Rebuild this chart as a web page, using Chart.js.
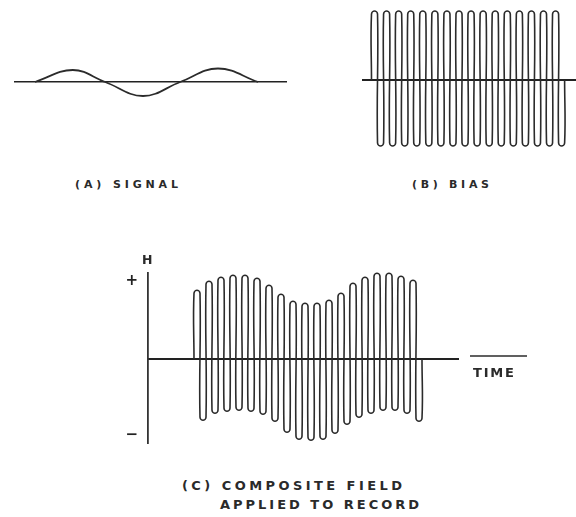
<!DOCTYPE html>
<html>
<head>
<meta charset="utf-8">
<script src="https://cdn.jsdelivr.net/npm/chart.js@4.4.1/dist/chart.umd.min.js"></script>
<style>
  html, body { margin: 0; padding: 0; background: #fff; }
  #page { position: relative; width: 576px; height: 517px; overflow: hidden; }
  canvas { position: absolute; }
  .lbl { position: absolute; font-family: "DejaVu Sans", sans-serif; font-weight: bold;
         color: #2a2a2a; line-height: 1; white-space: nowrap; }
</style>
</head>
<body>
<div id="page">
  <canvas id="signalChart" width="300" height="80" style="left:0;top:40px"></canvas>
  <canvas id="biasChart" width="236" height="160" style="left:340px;top:0"></canvas>
  <canvas id="compChart" width="476" height="230" style="left:100px;top:240px"></canvas>

  <div class="lbl" data-w="103" style="left:75px;top:178.7px;font-size:11px">(A) SIGNAL</div>
  <div class="lbl" data-w="77" style="left:412px;top:178.7px;font-size:11px">(B) BIAS</div>
  <div class="lbl" style="left:142px;top:254px;font-size:12.5px">H</div>
  <div class="lbl" data-w="41" style="left:473px;top:365.5px;font-size:13px">TIME</div>
  <div class="lbl" data-w="220" style="left:182px;top:478.8px;font-size:13px">(C) COMPOSITE FIELD</div>
  <div class="lbl" data-w="199" style="left:220px;top:497.8px;font-size:13px">APPLIED TO RECORD</div>
</div>

<script>
// time in bias cycles, field in arbitrary units (1 unit = 1/10 of the drawing's scale)

// (A) signal: zero crossings and peaks
const signalTime  = [0, 3.15, 5.85, 9.0, 12.1, 15.25, 18.6];
const signalField = [0, 1.2, 0, -1.4, 0, 1.35, 0];

// (B) bias: one top and one bottom per cycle
const biasTops    = [6.9, 6.9, 6.9, 6.9, 6.9, 6.9, 6.9, 6.9, 6.9, 6.9, 6.9, 6.9, 6.9, 6.9, 6.9, 6.9];
const biasBottoms = [-6.6, -6.6, -6.6, -6.6, -6.6, -6.6, -6.6, -6.6, -6.6, -6.6, -6.6, -6.6, -6.6, -6.6, -6.6, -6.6];

// (C) composite field = bias + signal
const compTops    = [6.9, 7.8, 8.2, 8.4, 8.4, 8.1, 7.4, 6.5, 5.8, 5.6, 5.6, 5.9, 6.6, 7.6, 8.2, 8.6, 8.6, 8.3, 7.9];
const compBottoms = [-6.1, -5.4, -5.2, -5.1, -5.2, -5.5, -6.2, -7.3, -8.0, -8.1, -8.0, -7.4, -6.5, -5.8, -5.4, -5.1, -5.1, -5.4, -6.2];

// H axis marks and the time arrow
const fieldTicks = [7.8, -7.6];
const fieldTickLabels = ['+', '\u2212'];
const timeArrow = [23, 27.75];

const INK = '#2b2b2b';
const CAP = 0.3;   // depth of the rounded loop ends

// spread the lettering out to the width it has in the drawing
const meter = document.createElement('canvas').getContext('2d');
document.querySelectorAll('.lbl[data-w]').forEach(el => {
  const cs = getComputedStyle(el);
  meter.font = cs.fontWeight + ' ' + cs.fontSize + ' ' + cs.fontFamily;
  const txt = el.textContent;
  const gap = (parseFloat(el.dataset.w) - meter.measureText(txt).width) / (txt.length - 1);
  el.style.letterSpacing = Math.max(0, gap) + 'px';
});

// builds the hairpin trace: up stroke, rounded top, down stroke, rounded bottom, per cycle
function loopTrace(tops, bottoms) {
  const pts = [{ x: 0, y: 0 }];
  tops.forEach((top, i) => {
    const bot = bottoms[i];
    pts.push({ x: i, y: top - CAP }, { x: i + 0.25, y: top }, { x: i + 0.5, y: top - CAP },
             { x: i + 0.5, y: bot + CAP }, { x: i + 0.75, y: bot }, { x: i + 1, y: bot + CAP });
  });
  pts.push({ x: tops.length, y: 0 });
  return pts;
}

function baseAxis(min, max, width) {
  return {
    type: 'linear', min: min, max: max, position: { y: 0 },
    grid: { display: false }, ticks: { display: false },
    border: { display: true, color: '#222', width: width },
    afterFit: s => { s.height = 0; }
  };
}

const common = {
  responsive: false, animation: false, events: [],
  plugins: { legend: { display: false }, tooltip: { enabled: false } },
  elements: { point: { radius: 0 } }
};

// (A) Signal
new Chart(document.getElementById('signalChart'), {
  type: 'line',
  data: {
    datasets: [{
      data: signalTime.map((t, i) => ({ x: t, y: signalField[i] })),
      borderColor: INK, borderWidth: 1.8, tension: 0.4, clip: false
    }]
  },
  options: {
    ...common,
    layout: { padding: { left: 15, right: 14, top: 22, bottom: 18 } },
    scales: {
      x: baseAxis(-1.667, 20.917, 1.6),
      y: { display: false, min: -2, max: 2 }
    }
  }
});

// (B) Bias
new Chart(document.getElementById('biasChart'), {
  type: 'line',
  data: {
    datasets: [{
      data: loopTrace(biasTops, biasBottoms),
      borderColor: INK, borderWidth: 1.6, tension: 0.4, capBezierPoints: false, clip: false
    }]
  },
  options: {
    ...common,
    layout: { padding: { left: 23, right: 1, top: 10, bottom: 10 } },
    scales: {
      x: baseAxis(-0.704, 16.86, 2),
      y: { display: false, min: -7, max: 7 }
    }
  }
});

// (C) Composite field
new Chart(document.getElementById('compChart'), {
  type: 'line',
  data: {
    datasets: [{
      data: loopTrace(compTops, compBottoms),
      borderColor: INK, borderWidth: 1.6, tension: 0.4, capBezierPoints: false, clip: false
    }, {
      data: timeArrow.map(t => ({ x: t, y: 0.33 })),
      borderColor: INK, borderWidth: 1.5, clip: false
    }]
  },
  options: {
    ...common,
    layout: { padding: { left: 0, right: 118, top: 33, bottom: 27 } },
    scales: {
      x: baseAxis(-3.833, 22, 2),
      y: {
        min: -8.37, max: 8.63, position: 'left',
        grid: { display: false, drawTicks: false },
        border: { display: true, color: '#333', width: 1.8 },
        afterBuildTicks: axis => { axis.ticks = fieldTicks.map(v => ({ value: v })); },
        afterFit: s => { s.width = 48; },
        ticks: {
          padding: 10, color: '#222',
          font: { family: 'DejaVu Sans', size: 15, weight: 'bold' },
          callback: v => fieldTickLabels[fieldTicks.indexOf(v)]
        }
      }
    }
  }
});
</script>
</body>
</html>
